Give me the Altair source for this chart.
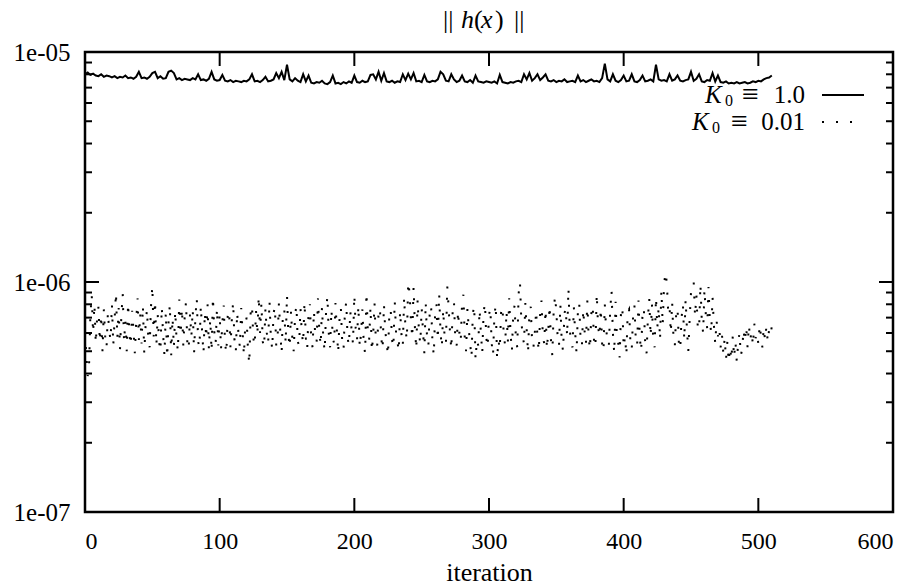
import altair as alt
import pandas as pd

# ---- data ----
# K0 = 1.0 series, sampled every 2 iterations, units of 1e-6
solid_vals = [
    8.0, 8.15, 7.95, 8.05, 7.9, 7.85, 8.0, 7.8, 7.9, 7.85,
    7.75, 7.85, 7.7, 7.8, 7.75, 7.9, 7.7, 7.75, 7.65, 7.8,
    8.2, 7.7, 7.75, 7.65, 7.8, 8.1, 8.2, 7.7, 7.85, 7.65,
    7.7, 8.2, 8.3, 8.1, 7.6, 7.7, 7.55, 7.65, 7.6, 7.55,
    7.7, 7.6, 8.0, 7.55, 7.6, 7.5, 7.65, 8.2, 7.6, 7.5,
    7.55, 7.95, 7.5, 7.45, 7.55, 7.4, 7.5, 7.45, 7.4, 7.5,
    7.45, 7.6, 8.0, 7.45, 7.5, 7.4, 7.55, 7.8, 7.45, 7.5,
    7.6, 8.1, 7.7, 8.2, 7.55, 8.8, 7.6, 7.45, 7.7, 7.5,
    7.4, 8.0, 7.45, 7.9, 7.35, 7.3, 7.4, 7.35, 7.5, 7.3,
    7.25, 7.4, 7.9, 7.3, 7.35, 7.25, 7.4, 7.3, 7.45, 7.35,
    7.9, 7.4, 7.35, 7.5, 7.4, 7.45, 7.95, 8.0, 7.6, 8.2,
    7.5, 8.1, 7.45, 7.4, 7.5, 7.35, 7.45, 7.4, 8.0, 7.55,
    8.05, 7.6, 8.1, 7.45, 7.5, 7.4, 7.95, 7.45, 7.4, 7.5,
    7.45, 7.6, 8.2, 8.0, 7.5, 7.45, 8.0, 7.6, 7.4, 7.5,
    7.9, 7.45, 7.4, 7.55, 7.35, 7.9, 7.45, 7.4, 7.35, 7.45,
    7.4, 7.35, 7.45, 7.3, 7.95, 7.4, 7.35, 7.3, 7.4, 7.35,
    7.45, 7.5, 7.4, 8.0, 7.6, 8.1, 7.5, 7.7, 8.0, 7.55,
    7.75, 8.0, 7.5, 7.45, 7.55, 7.4, 7.5, 7.45, 7.6, 7.4,
    7.45, 7.5, 7.4, 7.9, 7.45, 7.55, 7.4, 7.5, 7.6, 7.45,
    7.5, 7.4, 7.7, 8.9, 7.6, 7.45, 8.0, 7.5, 7.4, 7.55,
    7.9, 7.45, 7.5, 8.0, 7.45, 7.4, 7.55, 7.9, 7.45, 7.5,
    7.6, 7.45, 8.8, 7.6, 7.5, 7.55, 7.45, 8.0, 7.5, 7.6,
    7.9, 7.5, 7.45, 7.55, 7.6, 8.2, 7.5, 7.65, 8.0, 7.45,
    7.4, 7.55, 7.5, 8.1, 7.45, 7.9, 7.4, 7.35, 7.45, 7.3,
    7.35, 7.3, 7.4, 7.3, 7.35, 7.4, 7.3, 7.35, 7.45, 7.4,
    7.5, 7.45, 7.6, 7.7, 7.75, 7.9,
]
solid_iters = list(range(0, 511, 2))

# K0 = 0.01 series, every iteration, units of 1e-7
dot_vals = [
    6.0, 4.8, 3.9, 4.3, 7.2, 8.8, 6.0, 8.0, 5.4, 7.0,
    7.8, 5.5, 7.2, 5.0, 7.6, 5.8, 5.2, 7.4, 6.1, 5.6,
    8.0, 5.3, 6.9, 9.0, 5.7, 7.7, 5.1, 7.1, 8.9, 5.5,
    6.8, 5.0, 8.1, 5.9, 5.3, 7.5, 6.2, 4.9, 6.7, 8.5,
    5.6, 7.3, 5.4, 7.9, 4.9, 6.5, 7.6, 5.7, 5.2, 7.8,
    9.6, 5.8, 8.3, 5.3, 7.2, 5.5, 5.0, 7.8, 5.9, 4.8,
    7.4, 4.7, 6.6, 8.0, 4.8, 7.0, 5.2, 7.5, 5.6, 5.0,
    8.4, 5.9, 7.7, 5.3, 7.0, 8.2, 5.4, 5.1, 7.3, 5.8,
    7.6, 4.9, 7.1, 8.5, 5.5, 5.2, 7.9, 6.0, 4.9, 7.4,
    5.7, 8.0, 5.1, 6.9, 5.0, 8.6, 6.1, 5.4, 7.7, 5.3,
    7.3, 5.1, 6.7, 7.9, 5.4, 4.9, 7.2, 7.5, 5.2, 6.8,
    8.2, 5.6, 5.0, 7.4, 5.9, 5.2, 7.7, 6.1, 4.8, 6.5,
    7.0, 5.1, 4.4, 7.3, 7.9, 5.7, 5.3, 7.5, 5.9, 8.7,
    6.0, 8.1, 5.5, 5.2, 7.7, 6.0, 5.4, 8.3, 5.8, 5.1,
    7.3, 7.8, 5.3, 5.7, 8.1, 6.1, 4.9, 7.4, 7.6, 5.4,
    8.8, 5.9, 5.2, 7.5, 5.6, 5.0, 7.2, 7.9, 5.5, 5.3,
    7.7, 6.0, 5.4, 8.2, 5.7, 5.1, 7.3, 8.0, 5.6, 5.2,
    7.5, 5.8, 5.5, 8.5, 6.1, 5.3, 7.8, 5.6, 5.0, 7.4,
    8.7, 6.0, 5.2, 7.6, 5.7, 5.4, 8.1, 6.2, 4.9, 6.9,
    7.7, 5.5, 5.1, 7.4, 8.2, 5.7, 5.3, 7.5, 6.1, 5.4,
    8.8, 6.3, 5.6, 7.9, 5.2, 6.0, 7.6, 5.4, 4.9, 9.0,
    6.2, 5.6, 7.8, 5.0, 5.9, 8.1, 5.5, 5.3, 7.4, 7.7,
    5.7, 5.1, 8.0, 6.1, 5.4, 4.8, 7.3, 7.6, 5.6, 5.2,
    8.3, 6.0, 5.5, 5.0, 7.5, 5.9, 5.3, 8.6, 6.2, 5.6,
    10.0, 9.0, 6.9, 5.7, 9.5, 6.3, 5.1, 8.4, 6.0, 5.4,
    7.7, 6.1, 4.9, 8.2, 5.7, 5.3, 7.4, 7.9, 5.5, 4.8,
    7.3, 8.0, 5.6, 8.9, 6.0, 5.2, 7.6, 5.8, 5.4, 9.6,
    7.8, 6.1, 5.1, 7.4, 8.2, 5.6, 5.3, 7.5, 6.0, 5.5,
    8.1, 8.8, 5.7, 5.0, 7.7, 6.2, 5.4, 4.7, 7.3, 7.9,
    4.6, 5.6, 5.3, 7.6, 6.0, 4.9, 7.4, 8.1, 5.7, 5.2,
    7.2, 7.7, 5.4, 4.8, 7.1, 8.0, 4.6, 5.6, 5.1, 7.4,
    7.8, 5.8, 5.3, 7.5, 5.5, 8.5, 6.0, 5.0, 7.3, 7.9,
    5.6, 5.2, 8.9, 10.0, 6.8, 5.8, 5.4, 8.1, 6.2, 4.9,
    7.4, 7.8, 5.5, 5.2, 6.0, 7.5, 5.7, 5.0, 7.3, 8.3,
    5.8, 5.4, 7.6, 5.1, 6.1, 7.9, 5.6, 4.8, 7.4, 8.7,
    7.5, 5.7, 5.3, 8.0, 5.5, 5.0, 7.3, 7.7, 5.8, 9.4,
    6.2, 5.4, 5.2, 7.8, 6.0, 4.9, 7.4, 8.1, 5.6, 5.3,
    7.6, 6.1, 5.4, 8.3, 5.7, 5.1, 7.3, 7.9, 5.5, 5.2,
    8.9, 6.4, 5.8, 7.7, 5.4, 5.0, 8.0, 6.2, 5.6, 5.3,
    7.5, 9.2, 6.0, 4.9, 8.2, 5.7, 5.4, 4.7, 7.3, 7.8,
    5.2, 5.8, 4.8, 7.4, 7.6, 5.5, 5.1, 7.1, 7.9, 5.6,
    5.3, 8.3, 5.7, 5.0, 7.3, 7.7, 5.4, 4.9, 7.0, 8.5,
    5.8, 8.0, 5.5, 5.2, 8.6, 6.3, 7.8, 5.6, 9.2, 6.5,
    9.7, 11.0, 10.0, 7.6, 8.0, 6.0, 8.2, 5.7, 5.3, 7.3,
    7.7, 5.4, 5.1, 7.0, 8.0, 5.6, 8.4, 6.2, 5.0, 6.9,
    9.0, 9.6, 10.0, 7.1, 8.8, 6.4, 6.2, 9.8, 6.8, 6.0,
    9.3, 7.2, 6.3, 9.5, 6.8, 6.0, 8.6, 6.5, 5.4, 6.8,
    5.8, 6.3, 5.2, 5.9, 4.9, 5.7, 4.6, 5.5, 4.5, 5.2,
    4.6, 5.8, 4.7, 5.5, 4.5, 5.4, 6.0, 4.8, 5.1, 6.2,
    5.5, 6.4, 5.2, 6.5, 5.6, 6.1, 5.3, 6.6, 5.7, 6.0,
    5.4, 6.5, 5.8, 5.2, 6.3, 5.6, 6.4, 5.5, 6.2, 5.9,
    6.4,
]
dot_iters = list(range(0, 511))

x_ticks = [0, 100, 200, 300, 400, 500, 600]
x_inner_ticks = [100, 200, 300, 400, 500]
y_major = [1e-7, 1e-6, 1e-5]
y_minor = [2e-7, 3e-7, 4e-7, 5e-7, 6e-7, 7e-7, 8e-7, 9e-7,
           2e-6, 3e-6, 4e-6, 5e-6, 6e-6, 7e-6, 8e-6, 9e-6]

# ---- layout / style ----
W, H = 808, 460
FONT = "Liberation Serif"
MAJ, MIN = 14, 7
DOTS = [2, 12]

solid_df = pd.DataFrame({"iteration": solid_iters, "value": [v * 1e-6 for v in solid_vals]})
dot_df = pd.DataFrame({"iteration": dot_iters, "value": [v * 1e-7 for v in dot_vals]})

xs = alt.Scale(domain=[0, 600], nice=False, zero=False)
ys = alt.Scale(type="log", domain=[1e-7, 1e-5], nice=False)

x_axis = alt.Axis(values=x_ticks, ticks=False, domain=False, grid=False,
                  labelFont=FONT, labelFontSize=24, labelPadding=17, labelColor="black",
                  title="iteration", titleFont=FONT, titleFontSize=26, titleFontWeight="normal",
                  titleBaseline="alphabetic", titleY=68, titleColor="black")
y_axis = alt.Axis(values=y_major, ticks=False, domain=False, grid=False,
                  labelExpr="replace(format(datum.value, '.0e'), 'e-', 'e-0')",
                  labelFont=FONT, labelFontSize=25, labelPadding=15, labelColor="black",
                  title="")

X = lambda f: alt.X(f, scale=xs, axis=x_axis, title="iteration")
Y = lambda f: alt.Y(f, scale=ys, axis=y_axis, title="")

line = alt.Chart(solid_df).mark_line(color="black", strokeWidth=2).encode(
    x=X("iteration:Q"), y=Y("value:Q"))

dotted = alt.Chart(dot_df).mark_line(color="black", strokeWidth=2, strokeDash=DOTS).encode(
    x=X("iteration:Q"), y=Y("value:Q"))

xt_df = pd.DataFrame({"t": x_inner_ticks})
ymaj_df = pd.DataFrame({"t": y_major})
ymin_df = pd.DataFrame({"t": y_minor})

def xtick(y0, y1):
    return alt.Chart(xt_df).mark_rule(color="black", strokeWidth=2).encode(
        x=X("t:Q"), y=alt.value(y0), y2=alt.value(y1))

def ytick(df, x0, x1):
    return alt.Chart(df).mark_rule(color="black", strokeWidth=2).encode(
        y=Y("t:Q"), x=alt.value(x0), x2=alt.value(x1))

ticks = [
    xtick(H, H - MAJ), xtick(0, MAJ),
    ytick(ymaj_df, 0, MAJ), ytick(ymaj_df, W - MAJ, W),
    ytick(ymin_df, 0, MIN), ytick(ymin_df, W - MIN, W),
]

one = pd.DataFrame({"a": [0]})

def txt(s, x, y, size=26, italic=False, align="left"):
    kw = dict(font=FONT, fontSize=size, color="black", align=align, baseline="alphabetic")
    if italic:
        kw["fontStyle"] = "italic"
    return alt.Chart(one).mark_text(**kw).encode(
        x=alt.value(x), y=alt.value(y), text=alt.value(s))

LF = 25
texts = [
    # title || h(x) ||
    txt("||", 358, -24), txt("h", 376, -24, italic=True), txt("(", 389, -24),
    txt("x", 396, -24, italic=True), txt(")", 410, -24), txt("||", 429, -24),
    # legend entry 1
    txt("K", 620, 51, size=LF, italic=True), txt("0", 640, 54, size=16),
    txt("≡", 657, 52, size=30), txt("1.0", 720, 51, size=LF, align="right"),
    # legend entry 2
    txt("K", 607, 78, size=LF, italic=True), txt("0", 627, 81, size=16),
    txt("≡", 646, 79, size=30), txt("0.01", 720, 78, size=LF, align="right"),
]

leg_line = alt.Chart(one).mark_rule(color="black", strokeWidth=2).encode(
    x=alt.value(737), x2=alt.value(779), y=alt.value(43))
leg_dots = alt.Chart(one).mark_rule(color="black", strokeWidth=2, strokeDash=DOTS).encode(
    x=alt.value(737), x2=alt.value(779), y=alt.value(70))

chart = alt.layer(line, dotted, *ticks, *texts, leg_line, leg_dots).properties(
    width=W, height=H,
    background="white",
    autosize=alt.AutoSizeParams(type="none"),
    padding={"left": 85, "top": 52, "right": 20, "bottom": 76},
).configure_view(stroke="black", strokeWidth=2.5)

chart.save("out.html", embed_options={"renderer": "svg", "actions": False})
